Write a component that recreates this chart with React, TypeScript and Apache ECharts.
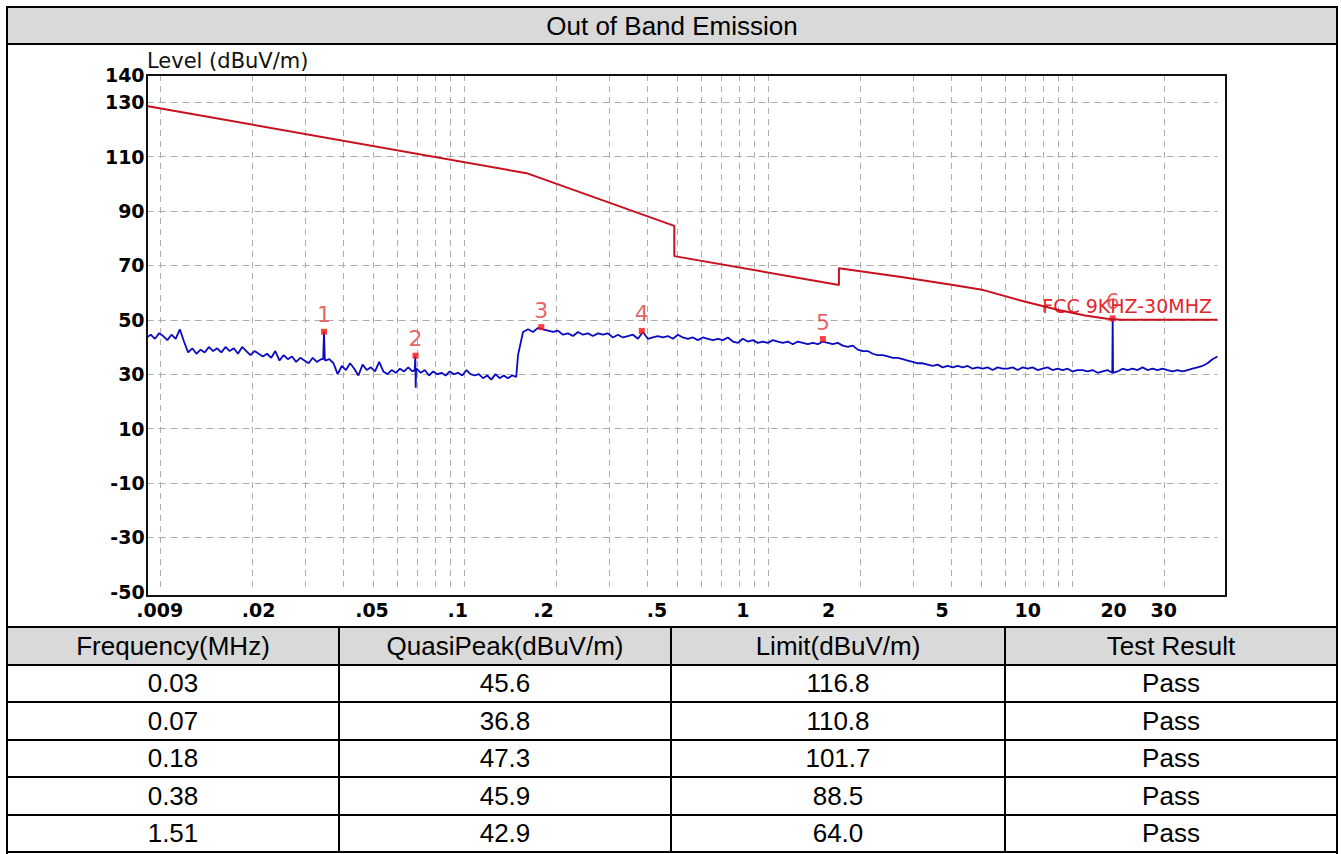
import React, { useEffect, useRef } from 'react';
import * as echarts from 'echarts';

// ---------------- texts ----------------
const TITLE = 'Out of Band Emission';
const Y_AXIS_NAME = 'Level (dBuV/m)';
const LIMIT_NAME = 'FCC 9KHZ-30MHZ';

// ---------------- y axis (dBuV/m) ----------------
const yLabelValues = [140, 130, 110, 90, 70, 50, 30, 10, -10, -30, -50];
const yGridValues = [130, 110, 90, 70, 50, 30, 10, -10, -30];

// ---------------- x axis (MHz, logarithmic) ----------------
const xLabelValues = [0.009, 0.02, 0.05, 0.1, 0.2, 0.5, 1, 2, 5, 10, 20, 30];
const xLabelTexts = ['.009', '.02', '.05', '.1', '.2', '.5', '1', '2', '5', '10', '20', '30'];
const xGridValues = [
  0.01, 0.02, 0.03, 0.04, 0.05, 0.06, 0.07, 0.08, 0.09,
  0.1, 0.2, 0.3, 0.4, 0.5, 0.6, 0.7, 0.8, 0.9,
  1, 2, 3, 4, 5, 6, 7, 8, 9,
  10, 20,
];
const X_MIN = 0.009;
const X_MAX = 30;
// The source plot prints its frequency labels on a slightly compressed log scale
// (about 285 px per decade, while the grid uses about 304 px per decade).
// This second, label-only axis reproduces that (values are log10(MHz)).
const X_LABEL_AXIS_MIN = -2.0919;
const X_LABEL_AXIS_MAX = 1.6656;

// ---------------- limit line ----------------
const limitFreqs = [0.009, 0.16, 0.49, 0.49, 1.705, 1.705, 2.7, 4.0, 5.1, 7.0, 9.0, 11.0, 13.0, 14.5, 30];
const limitLevels = [128.6, 103.9, 84.5, 73.4, 62.8, 68.9, 65.8, 62.9, 60.9, 56.6, 53.6, 51.6, 50.4, 50.0, 50.0];

// ---------------- measured trace ----------------
// band 1: 9 kHz – 148 kHz sweep
const band1Start = 0.009;
const band1Stop = 0.148;
const band1Levels = [
  43.5, 44.5, 43, 45, 44, 42.5, 44.5, 43, 46.5, 42,
  38, 39.5, 37.5, 39, 38, 40, 38.5, 39.5, 38, 40,
  38.5, 39.5, 37.5, 40, 38.5, 37, 38.5, 37.5, 36.5, 37.5,
  36, 38.5, 35, 37, 35.5, 36.5, 34.5, 36, 35, 34,
  36, 34.5, 35.5, 35, 35.5, 34, 30, 33, 31.5, 34,
  32, 29.5, 33.5, 31.5, 32.5, 31, 34.5, 31, 30, 31.5,
  30.5, 32, 31, 32.5, 31, 32, 30.5, 31.5, 29.5, 31,
  30, 30.5, 29.5, 31, 30, 30.5, 29.5, 31.5, 30, 29.5,
  30, 28.5, 29.5, 28, 30, 28.5, 29.5, 28.5, 29.5, 29,
];
// band 2: 150 kHz – 30 MHz sweep
const band2Start = 0.15;
const band2Stop = 30;
const band2Levels = [
  37, 45.5, 46.5, 45.5, 47, 46.5, 46, 45.5, 46, 44.5,
  45, 44, 45.5, 44.5, 45, 44, 45, 44.5, 45, 43.5,
  44.5, 43.5, 44, 44.5, 43, 45.5, 43, 43.5, 44, 43.5,
  44, 43, 44.5, 43.5, 43, 43.5, 42.5, 43.5, 43, 42.5,
  43, 42.5, 43.5, 42, 41.5, 43, 42, 42.5, 41.5, 42,
  41.5, 42.5, 42, 41.5, 42, 41, 42, 41.5, 41, 41.5,
  41, 42, 41.5, 41, 41.5, 40.5, 40, 40.5, 39, 38.5,
  38.5, 37.5, 37, 37, 36.5, 36, 36, 35.5, 35, 34.5,
  34, 34, 33.5, 33, 33.5, 32.5, 33, 32.5, 33, 32.5,
  33, 32, 32.5, 32, 32.5, 31.5, 32.5, 32, 32, 32.5,
  31.5, 32.5, 32, 32.5, 31.5, 32, 32.5, 31.5, 32, 31.5,
  32, 31, 31.5, 31.5, 31, 31.5, 30.5, 31, 31.5, 30.5,
  31, 32, 31.5, 32, 31.5, 32.5, 31.5, 32, 31.5, 32,
  31.5, 31, 31.5, 31, 31.5, 32, 32.5, 33, 34, 35.5,
  36.5,
];
// narrow emissions on the trace
const spikeFreqs = [0.0343, 0.0345, 0.0347, 0.0686, 0.0689, 0.0691, 0.0693, 13.52, 13.56, 13.6];
const spikeLevels = [35.5, 45.6, 36, 31.5, 36.8, 25, 31, 30.5, 50.5, 30.5];

// ---------------- markers ----------------
const markerFreqs = [0.0345, 0.069, 0.179, 0.383, 1.51, 13.56];
const markerLevels = [45.6, 36.8, 47.3, 45.9, 42.9, 50.5];

// ---------------- table ----------------
const tableHeaders = ['Frequency(MHz)', 'QuasiPeak(dBuV/m)', 'Limit(dBuV/m)', 'Test Result'];
const tableFreq = ['0.03', '0.07', '0.18', '0.38', '1.51'];
const tableQP = ['45.6', '36.8', '47.3', '45.9', '42.9'];
const tableLimit = ['116.8', '110.8', '101.7', '88.5', '64.0'];
const tableResult = ['Pass', 'Pass', 'Pass', 'Pass', 'Pass'];

const AXIS_FONT = 'DejaVu Sans';
const PAGE_FONT = '"Liberation Sans", Arial, Helvetica, sans-serif';

function sweep(start: number, stop: number, levels: number[]): number[][] {
  const n = levels.length;
  return levels.map((lv, i) => [start * Math.pow(stop / start, i / (n - 1)), lv]);
}

function Chart() {
  const ref = useRef<HTMLDivElement>(null);
  useEffect(() => {
    if (!ref.current) return;
    const chart = echarts.init(ref.current, null, { renderer: 'svg' });

    const trace = [
      ...sweep(band1Start, band1Stop, band1Levels),
      ...sweep(band2Start, band2Stop, band2Levels),
      ...spikeFreqs.map((f, i) => [f, spikeLevels[i]]),
    ]
      .sort((a, b) => a[0] - b[0])
      .map(([f, v]) => [Math.log10(f), v]);

    const limit = limitFreqs.map((f, i) => [Math.log10(f), limitLevels[i]]);
    const markers = markerFreqs.map((f, i) => [Math.log10(f), markerLevels[i]]);
    const lastLimit = limit[limit.length - 1];

    const option: any = {
      animation: false,
      backgroundColor: 'transparent',
      title: {
        text: Y_AXIS_NAME,
        left: 147,
        top: 4,
        padding: 0,
        textStyle: {
          color: '#111',
          fontFamily: AXIS_FONT,
          fontWeight: 'normal',
          fontSize: 21,
        },
      },
      grid: { left: 146.6, right: 123.5, top: 29, bottom: 34.3 },
      xAxis: [
        {
          type: 'value',
          min: Math.log10(X_MIN),
          max: Math.log10(X_MAX),
          axisLine: { show: false },
          axisTick: { show: false, customValues: xGridValues.map((v) => Math.log10(v)) },
          axisLabel: { show: false },
          splitLine: { show: true, lineStyle: { color: '#adadad', width: 1, type: [6, 5] } },
        },
        {
          type: 'value',
          position: 'bottom',
          min: X_LABEL_AXIS_MIN,
          max: X_LABEL_AXIS_MAX,
          axisLine: { show: false },
          axisTick: { show: false },
          splitLine: { show: false },
          axisLabel: {
            show: true,
            customValues: xLabelValues.map((v) => Math.log10(v)),
            formatter: (val: number) => {
              const idx = xLabelValues.findIndex((v) => Math.abs(Math.log10(v) - val) < 1e-6);
              return idx >= 0 ? xLabelTexts[idx] : '';
            },
            margin: 9,
            color: '#000',
            fontFamily: AXIS_FONT,
            fontWeight: 'bold',
            fontSize: 19,
          },
        },
      ],
      yAxis: {
        type: 'value',
        min: -50,
        max: 140,
        axisLine: { show: false },
        axisTick: { show: false, customValues: yGridValues },
        axisLabel: {
          customValues: yLabelValues,
          margin: 2,
          color: '#000',
          fontFamily: AXIS_FONT,
          fontWeight: 'bold',
          fontSize: 19,
        },
        splitLine: { show: true, lineStyle: { color: '#adadad', width: 1, type: [7, 5] } },
      },
      series: [
        {
          name: 'Trace',
          type: 'line',
          data: trace,
          showSymbol: false,
          silent: true,
          z: 2,
          lineStyle: { color: '#0a0abf', width: 1.8 },
        },
        {
          name: LIMIT_NAME,
          type: 'line',
          data: limit,
          showSymbol: false,
          silent: true,
          z: 6,
          lineStyle: { color: '#c8101e', width: 2 },
          markPoint: {
            silent: true,
            symbol: 'rect',
            symbolSize: 1,
            itemStyle: { color: 'rgba(0,0,0,0)' },
            data: [
              {
                coord: lastLimit,
                label: {
                  show: true,
                  position: 'left',
                  distance: 5,
                  offset: [0, -14],
                  formatter: LIMIT_NAME,
                  color: '#e0282e',
                  fontFamily: AXIS_FONT,
                  fontSize: 19,
                },
              },
            ],
          },
        },
        {
          name: 'Markers',
          type: 'scatter',
          data: markers,
          symbol: 'rect',
          symbolSize: 6,
          silent: true,
          z: 5,
          itemStyle: { color: '#ff1010' },
          label: {
            show: true,
            position: 'top',
            distance: 3,
            formatter: (p: any) => String(p.dataIndex + 1),
            color: '#e03a40',
            fontFamily: AXIS_FONT,
            fontSize: 22,
          },
        },
      ],
      graphic: [
        {
          type: 'rect',
          silent: true,
          z: 100,
          shape: { x: 147, y: 29, width: 1079, height: 521 },
          style: { fill: 'none', stroke: '#111', lineWidth: 2 },
        },
      ],
    };

    chart.setOption(option);
    return () => chart.dispose();
  }, []);

  return (
    <div
      ref={ref}
      style={{ position: 'absolute', left: 0, top: 46, width: 1341, height: 580 }}
    />
  );
}

const colEdges = [6, 338, 670, 1004, 1336];
const TABLE_TOP = 626;
const ROW_H = 37.5;

function Table() {
  const rows: string[][] = [tableHeaders];
  tableFreq.forEach((f, i) => rows.push([f, tableQP[i], tableLimit[i], tableResult[i]]));
  const cells: React.ReactNode[] = [];
  rows.forEach((row, r) => {
    row.forEach((txt, c) => {
      const left = colEdges[c];
      const width = colEdges[c + 1] - colEdges[c] + (c === 3 ? 2 : 0);
      cells.push(
        <div
          key={`${r}-${c}`}
          style={{
            position: 'absolute',
            left,
            top: TABLE_TOP + r * ROW_H,
            width,
            height: ROW_H + (r === rows.length - 1 ? 2 : 0),
            boxSizing: 'border-box',
            borderLeft: '2px solid #000',
            borderTop: '2px solid #000',
            borderRight: c === 3 ? '2px solid #000' : 'none',
            borderBottom: r === rows.length - 1 ? '2px solid #000' : 'none',
            background: r === 0 ? '#d9d9d9' : '#fff',
            display: 'flex',
            alignItems: 'center',
            justifyContent: 'center',
            fontSize: 26,
            color: '#000',
            fontFamily: PAGE_FONT,
            lineHeight: 1,
          }}
        >
          {txt}
        </div>
      );
    });
  });
  return <>{cells}</>;
}

export default function App() {
  useEffect(() => {
    document.body.style.overflow = 'hidden';
  }, []);
  return (
    <div
      style={{
        position: 'absolute',
        left: 0,
        top: 0,
        width: 1341,
        height: 854,
        background: '#fff',
        overflow: 'hidden',
        fontFamily: PAGE_FONT,
      }}
    >
      {/* outer frame */}
      <div
        style={{
          position: 'absolute',
          left: 6,
          top: 6,
          width: 1332,
          height: 860,
          boxSizing: 'border-box',
          border: '2px solid #000',
        }}
      />
      {/* title bar */}
      <div
        style={{
          position: 'absolute',
          left: 8,
          top: 8,
          width: 1328,
          height: 37,
          boxSizing: 'border-box',
          background: '#d9d9d9',
          borderBottom: '2px solid #000',
          display: 'flex',
          alignItems: 'center',
          justifyContent: 'center',
          fontSize: 26,
          color: '#000',
          lineHeight: 1,
        }}
      >
        {TITLE}
      </div>
      <Chart />
      <Table />
    </div>
  );
}
